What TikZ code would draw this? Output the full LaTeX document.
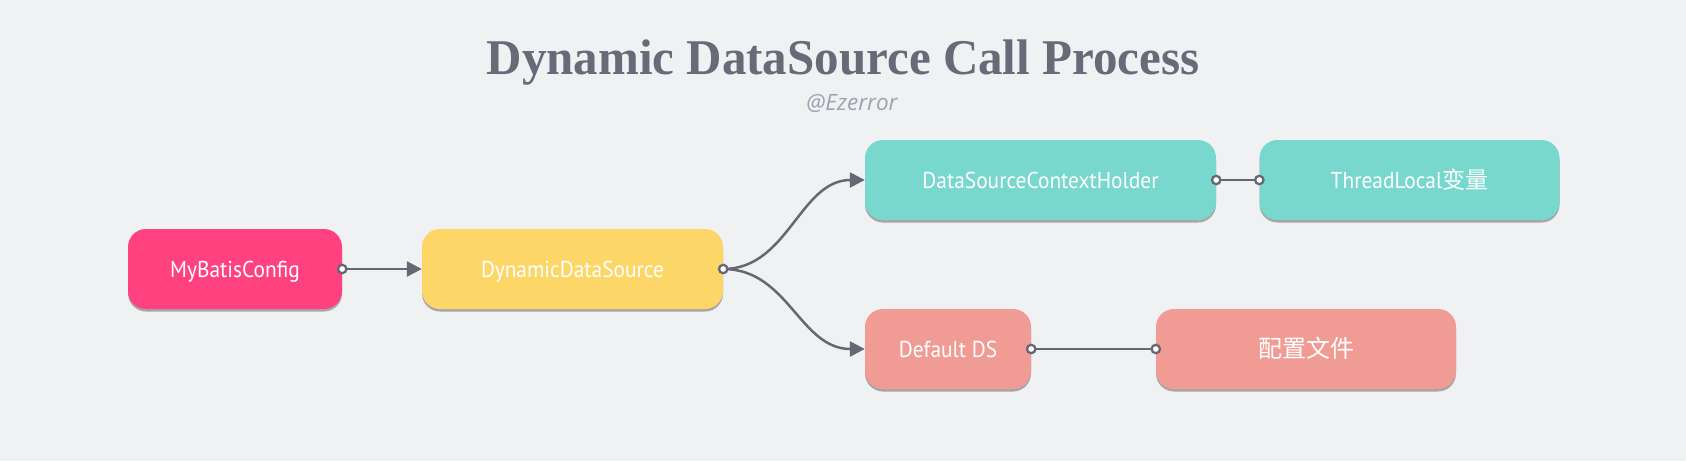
\documentclass[tikz,border=0pt]{standalone}
\usepackage{fontspec}
\usetikzlibrary{arrows.meta,shadows,positioning}
\setmainfont{Liberation Serif}
\newfontfamily\titlefont[FakeStretch=0.98]{Liberation Serif}
\newfontfamily\authorfont{Open Sans}
\newfontfamily\boxfont[FakeStretch=0.93]{PT Sans}
\newfontfamily\cjk{Noto Sans CJK SC}
\definecolor{bgc}{HTML}{F0F1F3}
\definecolor{titlec}{HTML}{6A6977}
\definecolor{authc}{HTML}{9AA3AE}
\definecolor{pinkc}{HTML}{FF4180}
\definecolor{yellowc}{HTML}{FCD667}
\definecolor{tealc}{HTML}{79D8CD}
\definecolor{salmonc}{HTML}{F19B95}
\definecolor{linec}{HTML}{676773}
\tikzset{
  box/.style={rounded corners=18pt, minimum height=80pt, text=white,
    font=\boxfont\fontsize{23}{26}\selectfont, text height=17pt, text depth=0pt,
    inner sep=0pt,
    drop shadow={shadow xshift=0pt, shadow yshift=-2.5pt, opacity=0.45, fill=black!70}},
  conn/.style={draw=linec, line width=2.5pt},
  arr/.style={conn, -{Triangle[length=15pt,width=15pt]}},
  dotc/.style={draw=linec, fill=white, line width=2.3pt}
}
\begin{document}
\begin{tikzpicture}[x=1pt,y=-1pt]
\fill[bgc] (0,0) rectangle (1686,461);
\useasboundingbox (0,0) rectangle (1686,461);

\node[anchor=base, text=titlec, font=\titlefont\bfseries\fontsize{50}{56}\selectfont] (title) at (843,74) {Dynamic DataSource Call Process};
\node[anchor=base, text=authc, font=\authorfont\itshape\fontsize{22.5}{26}\selectfont] (author) at (852,110) {@Ezerror};

\node[box, fill=pinkc, minimum width=214pt] (mbc) at (235,269) {MyBatisConfig};
\node[box, fill=yellowc, minimum width=301pt] (dds) at (572.5,269) {DynamicDataSource};
\node[box, fill=tealc, minimum width=351pt] (dsch) at (1040.5,180) {DataSourceContextHolder};
\node[box, fill=tealc, minimum width=300pt] (tl) at (1409.5,180) {ThreadLocal{\cjk 变量}};
\node[box, fill=salmonc, minimum width=166pt] (dds2) at (948,349) {Default DS};
\node[box, fill=salmonc, minimum width=300pt] (cfg) at (1306,349) {{\cjk\fontsize{24}{26}\selectfont 配置文件}};

\draw[arr] (mbc.east) -- (dds.west);
\draw[arr] (dds.east) .. controls +(65,0) and +(-65,0) .. (dsch.west);
\draw[arr] (dds.east) .. controls +(65,0) and +(-65,0) .. (dds2.west);
\draw[conn] (dsch.east) -- (tl.west);
\draw[conn] (dds2.east) -- (cfg.west);

\foreach \p in {mbc.east, dds.east, dsch.east, tl.west, dds2.east, cfg.west}
  \draw[dotc] (\p) circle (4.2pt);
\end{tikzpicture}
\end{document}
